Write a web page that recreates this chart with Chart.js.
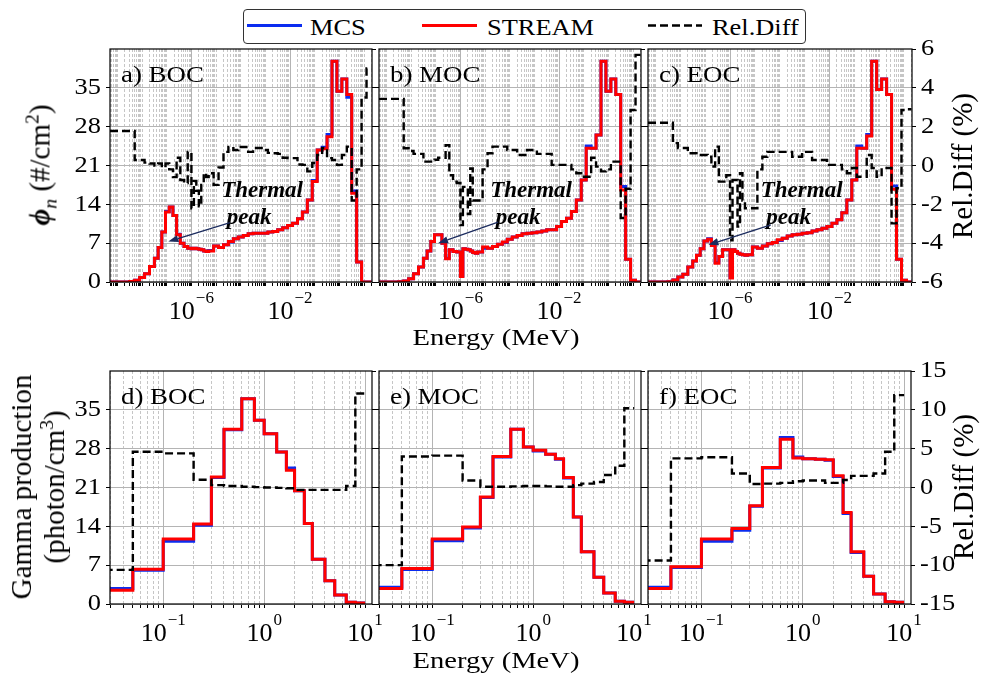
<!DOCTYPE html>
<html>
<head>
<meta charset="utf-8">
<title>Neutron flux and gamma production spectra</title>
<script src="https://cdn.jsdelivr.net/npm/chart.js@4.4.1/dist/chart.umd.min.js"></script>
<style>
  html, body { margin: 0; padding: 0; background: #fff; }
  #fig { position: relative; width: 989px; height: 673px; overflow: hidden;
         font-family: 'Liberation Serif', 'Times New Roman', serif; color: #000; }
  #fig canvas { position: absolute; }
  .txt { position: absolute; white-space: nowrap; font-size: 24px; line-height: 24px; }
  .vt { position: absolute; white-space: nowrap; font-size: 29px; line-height: 33px;
        text-align: center; transform: translate(-50%, -50%) rotate(-90deg); }
  .vt sup, .vt sub { font-size: 0.68em; line-height: 0; }
  #legend-box { position: absolute; left: 243px; top: 9px; width: 563px; height: 35px;
                box-sizing: border-box; border: 1.3px solid #333; border-radius: 4px; background: #fff; }
  .leg-line { position: absolute; height: 3px; }
</style>
</head>
<body>
<div id="fig">
  <div id="legend-box"></div>
  <div class="leg-line" style="left:247px;top:24px;width:55px;background:#0a2cf0"></div>
  <div class="txt" style="left:310px;top:15px;transform-origin:left center;transform:scaleX(1.1)">MCS</div>
  <div class="leg-line" style="left:422px;top:24px;width:55px;background:#ff0000"></div>
  <div class="txt" style="left:487px;top:15px;transform-origin:left center;transform:scaleX(1.1)">STREAM</div>
  <svg style="position:absolute;left:648px;top:23px" width="54" height="5">
    <line x1="0" y1="2.5" x2="54" y2="2.5" stroke="#000" stroke-width="2.4" stroke-dasharray="8 4"/>
  </svg>
  <div class="txt" style="left:712px;top:15px;transform-origin:left center;transform:scaleX(1.1)">Rel.Diff</div>

  <div class="vt" style="left:40px;top:165px"><b><i>ϕ</i></b><sub><i>n</i></sub> (#/cm<sup>2</sup>)</div>
  <div class="vt" style="left:38px;top:487px">Gamma production<br>(photon/cm<sup>3</sup>)</div>
  <div class="vt" style="left:962px;top:166px">Rel.Diff (%)</div>
  <div class="vt" style="left:963px;top:487px">Rel.Diff (%)</div>

  <div class="txt" style="left:496px;top:325px;transform:translateX(-50%) scaleX(1.19)">Energy (MeV)</div>
  <div class="txt" style="left:496px;top:648px;transform:translateX(-50%) scaleX(1.19)">Energy (MeV)</div>
</div>
<script>
// ---------------------------------------------------------------
// Données
// ---------------------------------------------------------------

// Bornes des groupes neutrons (MeV)
const E_N = [5.0e-10, 3.16e-9, 5.01e-9, 7.94e-9, 1.26e-8, 2.0e-8, 3.16e-8, 4.47e-8, 6.31e-8, 8.91e-8,
  1.26e-7, 1.78e-7, 2.51e-7, 3.55e-7, 5.01e-7, 7.08e-7, 1.0e-6, 1.26e-6, 1.58e-6, 2.0e-6,
  2.51e-6, 3.16e-6, 3.98e-6, 5.01e-6, 7.94e-6, 1.26e-5, 2.0e-5, 3.16e-5, 5.01e-5, 7.94e-5,
  1.26e-4, 2.0e-4, 3.16e-4, 5.01e-4, 7.94e-4, 1.26e-3, 2.0e-3, 3.16e-3, 5.01e-3, 7.94e-3,
  1.26e-2, 2.0e-2, 3.16e-2, 5.01e-2, 7.94e-2, 0.126, 0.2, 0.316, 0.501, 0.794,
  1.26, 2.0, 3.16, 5.01, 7.94, 12.6, 20];

// a) BOC
const STREAM_A = [0, 0.1, 0.3, 0.8, 1.5, 2.8, 4.3, 6.2, 9.0, 12.6,
  13.5, 12.0, 8.5, 7.0, 6.4, 6.1, 6.0, 6.1, 6.0, 5.9,
  5.8, 5.6, 5.5, 5.6, 6.5, 6.2, 6.7, 7.3, 7.8, 8.1,
  8.4, 8.7, 8.8, 8.8, 8.8, 9.0, 9.1, 9.4, 9.8, 10.2,
  10.6, 11.4, 12.6, 14.8, 18.1, 23.8, 24.0, 26.2, 39.8, 34.4,
  36.6, 33.8, 16.0, 3.6, 0, 0];
const MCS_A = [0, 0.1, 0.3, 0.8, 1.5, 2.8, 4.3, 6.2, 9.0, 12.7,
  13.5, 12.0, 8.6, 7.0, 6.4, 6.1, 6.0, 6.1, 6.0, 5.9,
  5.8, 5.6, 5.5, 5.7, 6.5, 6.2, 6.7, 7.2, 7.8, 8.1,
  8.4, 8.7, 8.8, 8.8, 8.8, 9.0, 9.1, 9.4, 9.8, 10.2,
  10.6, 11.4, 12.6, 14.8, 18.3, 23.8, 24.3, 26.6, 39.8, 34.4,
  36.6, 33.3, 16.4, 3.6, 0, 0];
const DIFF_A = [1.78, 1.78, 0.28, 0.28, 0.15, 0.1, 0.0, 0.1, -0.1, 0.1,
  -0.2, -0.6, 0.4, -0.75, -0.9, 0.7, -2.2, -0.8, -1.3, -2.1,
  -1.0, -0.4, -0.6, -0.4, -1.0, -0.1, 0.7, 0.95, 0.8, 0.95,
  0.95, 0.7, 0.9, 0.9, 0.8, 0.65, 0.63, 0.6, 0.4, 0.38,
  0.38, 0.05, 0.03, -0.3, 0.13, 0.54, 0.9, 0.38, 0.28, 0.03,
  0.54, 0.97, -1.8, -0.2, 3.5, 5.0];

// b) MOC
const STREAM_B = [0, 0.05, 0.2, 0.6, 1.5, 2.7, 4.3, 5.6, 7.3, 8.5,
  8.5, 7.0, 4.2, 5.8, 5.5, 5.4, 1.0, 6.0, 5.9, 5.8,
  5.6, 5.3, 5.2, 5.4, 6.3, 6.1, 6.4, 6.8, 7.2, 7.7,
  8.1, 8.4, 8.7, 8.8, 8.9, 9.0, 9.2, 9.4, 9.4, 10.0,
  10.9, 11.5, 12.7, 14.8, 18.4, 24.1, 24.1, 26.5, 39.8, 34.4,
  36.6, 33.8, 16.6, 4.1, 0.3, 0];
const MCS_B = [0, 0.05, 0.2, 0.6, 1.5, 2.7, 4.3, 5.6, 7.3, 8.5,
  8.5, 7.0, 4.3, 5.8, 5.5, 5.4, 1.1, 6.0, 5.9, 5.8,
  5.6, 5.3, 5.2, 5.4, 6.1, 6.1, 6.4, 6.8, 7.1, 7.7,
  8.1, 8.4, 8.7, 8.8, 8.9, 9.0, 9.2, 9.4, 9.4, 10.0,
  10.9, 11.5, 12.7, 14.8, 18.4, 24.5, 24.1, 26.5, 39.8, 34.4,
  36.6, 33.8, 17.2, 4.1, 0.3, 0];
const DIFF_B = [3.43, 3.43, 0.89, 0.75, 0.6, 0.6, 0.2, 0.2, 0.2, 0.3,
  0.4, 0.4, 1.05, -0.5, -0.83, -0.9, -3.07, -1.1, -1.1, -2.5,
  -0.15, -1.8, -1.8, -1.8, -0.2, 0.63, 0.97, 0.97, 0.97, 0.8,
  0.8, 0.54, 0.54, 0.8, 0.8, 0.6, 0.6, 0.6, 0.03, 0.03,
  0.03, 0.03, -0.2, -0.4, -0.58, -0.58, 0.4, -0.06, -0.3, -0.2,
  0.2, 0.2, -2.7, -1.2, 2.86, 5.7];

// c) EOC
const STREAM_C = [0, 0.05, 0.36, 0.9, 1.4, 2.7, 3.8, 4.8, 6.0, 7.4,
  7.7, 6.6, 3.4, 4.6, 5.8, 5.8, 0.7, 5.8, 5.5, 5.2,
  5.0, 4.9, 4.8, 4.9, 6.3, 6.1, 6.5, 6.9, 7.1, 7.6,
  7.9, 8.3, 8.5, 8.6, 8.8, 8.9, 9.2, 9.4, 9.7, 10.0,
  10.6, 11.2, 12.5, 14.8, 18.4, 24.1, 24.1, 26.3, 39.8, 34.7,
  36.6, 33.8, 16.7, 4.1, 0.3, 0];
const MCS_C = [0, 0.05, 0.36, 0.9, 1.4, 2.7, 3.8, 4.8, 6.0, 7.4,
  7.8, 6.6, 3.5, 4.6, 5.8, 5.8, 0.8, 5.8, 5.5, 5.2,
  5.0, 4.9, 4.8, 4.9, 6.3, 6.1, 6.5, 6.9, 7.1, 7.5,
  7.9, 8.3, 8.5, 8.6, 8.8, 8.9, 9.2, 9.4, 9.7, 10.0,
  10.6, 11.2, 12.5, 14.8, 18.4, 24.5, 24.1, 26.6, 39.8, 34.7,
  36.6, 33.8, 17.3, 4.1, 0.3, 0];
const DIFF_C = [2.2, 2.2, 1.15, 0.9, 0.9, 0.63, 0.63, 0.54, 0.54, 0.54,
  0.45, -0.05, 0.97, -0.83, -0.83, -0.5, -3.85, -0.75, -0.75, -3.15,
  -0.4, -1.8, -2.2, -2.2, -2.2, -0.2, 0.45, 0.7, 0.7, 0.7,
  0.7, 0.7, 0.45, 0.45, 0.7, 0.7, 0.28, 0.28, 0.28, 0.03,
  0.03, 0.03, -0.2, -0.4, -0.13, -0.58, -0.58, 0.54, -0.13, -0.58,
  -0.13, -0.13, -2.98, -1.17, 2.86, 2.9];

// Bornes des groupes gamma (MeV)
const E_G = [0.02, 0.05, 0.1, 0.2, 0.3, 0.4, 0.6, 0.8, 1.0, 1.33,
  1.66, 2.0, 2.5, 3.0, 4.0, 5.0, 6.5, 8.0, 10.0];

const STREAM_D = [2.5, 6.25, 11.7, 14.4, 22.9, 31.5, 37.0, 33.1, 30.7, 27.4, 24.1, 20.4, 14.5, 8.05, 4.2, 1.6, 0.3, 0.2];
const MCS_D    = [2.8, 6.1, 11.3, 14.2, 22.8, 31.4, 37.0, 33.1, 30.7, 27.4, 24.5, 20.4, 14.5, 8.05, 4.2, 1.6, 0.3, 0.2];
const DIFF_D   = [-10.6, 4.6, 4.4, 1.0, 0.3, 0.2, 0.1, 0.05, 0.0, -0.05, -0.1, -0.3, -0.3, -0.3, -0.3, -0.3, 0.2, 12.1];

const STREAM_E = [2.8, 6.4, 11.7, 13.9, 19.3, 26.6, 31.5, 28.3, 27.7, 27.0, 26.2, 22.8, 15.7, 9.4, 4.8, 2.0, 0.5, 0.3];
const MCS_E    = [3.0, 6.2, 11.4, 13.7, 19.2, 26.5, 31.5, 28.3, 27.6, 27.0, 26.1, 22.7, 15.7, 9.4, 4.8, 2.0, 0.5, 0.3];
const DIFF_E   = [-10.0, 4.0, 4.1, 0.9, 0.1, 0.1, 0.15, 0.2, 0.2, 0.15, 0.1, 0.1, 0.3, 0.5, 0.7, 1.6, 2.8, 10.2];

const STREAM_F = [2.8, 6.7, 11.7, 13.6, 17.7, 24.6, 29.7, 26.3, 26.2, 26.1, 26.0, 23.1, 16.5, 9.4, 5.0, 1.8, 0.4, 0.3];
const MCS_F    = [3.0, 6.6, 11.3, 13.3, 17.6, 24.5, 30.0, 26.5, 26.2, 26.1, 25.9, 23.0, 16.3, 9.3, 5.0, 1.8, 0.4, 0.3];
const DIFF_F   = [-9.4, 3.75, 3.9, 1.8, 0.45, 0.5, 0.6, 0.8, 0.9, 0.9, 0.6, 0.6, 0.97, 1.5, 1.5, 1.8, 4.6, 11.9];

// Graduations
const Y_TICKS = [0, 7, 14, 21, 28, 35];
const Y_LABELS = ['0', '7', '14', '21', '28', '35'];
const RD_TICKS_TOP = [-6, -4, -2, 0, 2, 4, 6];
const RD_LABELS_TOP = ['-6', '-4', '-2', '0', '2', '4', '6'];
const RD_TICKS_BOT = [-15, -10, -5, 0, 5, 10, 15];
const RD_LABELS_BOT = ['-15', '-10', '-5', '0', '5', '10', '15'];
const X_MAJOR_TOP = [1e-6, 1e-2];
const X_EXP_TOP = ['\u22126', '\u22122'];
const X_MAJOR_BOT = [0.1, 1, 10];
const X_EXP_BOT = ['\u22121', '0', '1'];
const PANEL_TAGS = ['a) BOC', 'b) MOC', 'c) EOC', 'd) BOC', 'e) MOC', 'f) EOC'];

// ---------------------------------------------------------------
// Style
// ---------------------------------------------------------------
const BLUE = '#0a2cf0';
const RED = '#ff0000';
const GRID_MAJOR = '#b4b4b4';
const GRID_MINOR = '#c6c6c6';
const SERIF = "'Liberation Serif', 'Times New Roman', serif";
const PANEL_H = 233;
const PAD = { l: 105, r: 80, t: 12, b: 70 };

// Annotations "Thermal peak" (coordonnées données)
const NOTES = {
  a: { t1: [7.3e-4, 15.3], t2: [2.17e-4, 10.5], from: [3.67e-5, 10.7], to: [1.16e-7, 7.3] },
  b: { t1: [7.3e-4, 15.3], t2: [2.17e-4, 10.5], from: [3.35e-5, 10.8], to: [1.24e-7, 7.0] },
  c: { t1: [7.6e-4, 15.3], t2: [2.3e-4, 10.5], from: [4.4e-5, 10.3], to: [1.35e-7, 6.7] },
};

const ROW_TOP = { xMin: 5.0e-10, xMax: 21, xMajor: X_MAJOR_TOP, xExp: X_EXP_TOP,
                  rMin: -6, rMax: 6, rTicks: RD_TICKS_TOP, rLabels: RD_LABELS_TOP, edges: E_N };
const ROW_BOT = { xMin: 0.0297, xMax: 11.7, xMajor: X_MAJOR_BOT, xExp: X_EXP_BOT,
                  rMin: -15, rMax: 15, rTicks: RD_TICKS_BOT, rLabels: RD_LABELS_BOT, edges: E_G };

const PANELS = [
  { row: ROW_TOP, left: 110, top: 49, w: 262, tag: PANEL_TAGS[0], mcs: MCS_A, stream: STREAM_A, diff: DIFF_A, yl: true,  yr: false, note: NOTES.a },
  { row: ROW_TOP, left: 379, top: 49, w: 262, tag: PANEL_TAGS[1], mcs: MCS_B, stream: STREAM_B, diff: DIFF_B, yl: false, yr: false, note: NOTES.b },
  { row: ROW_TOP, left: 648, top: 49, w: 264, tag: PANEL_TAGS[2], mcs: MCS_C, stream: STREAM_C, diff: DIFF_C, yl: false, yr: true,  note: NOTES.c },
  { row: ROW_BOT, left: 110, top: 371, w: 262, tag: PANEL_TAGS[3], mcs: MCS_D, stream: STREAM_D, diff: DIFF_D, yl: true,  yr: false },
  { row: ROW_BOT, left: 379, top: 371, w: 262, tag: PANEL_TAGS[4], mcs: MCS_E, stream: STREAM_E, diff: DIFF_E, yl: false, yr: false },
  { row: ROW_BOT, left: 648, top: 371, w: 263, tag: PANEL_TAGS[5], mcs: MCS_F, stream: STREAM_F, diff: DIFF_F, yl: false, yr: true },
];

// ---------------------------------------------------------------
// Outils
// ---------------------------------------------------------------
function stepData(edges, vals) {
  return edges.map((e, i) => ({ x: e, y: vals[Math.min(i, vals.length - 1)] }));
}

// graduations log : 1..9 x 10^k
function logGrid(min, max, majors) {
  const out = [];
  for (let k = Math.floor(Math.log10(min)); k <= Math.ceil(Math.log10(max)); k++) {
    for (let m = 1; m <= 9; m++) {
      const v = m * Math.pow(10, k);
      if (v >= min && v <= max) {
        out.push({ value: v, major: majors.some(M => Math.abs(v / M - 1) < 1e-6) });
      }
    }
  }
  return out;
}

function drawText(ctx, str, x, y, font, sx, align, base) {
  ctx.save();
  ctx.translate(x, y);
  ctx.scale(sx, 1);
  ctx.font = font;
  ctx.textAlign = align;
  ctx.textBaseline = base;
  ctx.fillStyle = '#000';
  ctx.fillText(str, 0, 0);
  ctx.restore();
}

function drawPow(ctx, exp, cx, base) {
  ctx.save();
  ctx.fillStyle = '#000';
  ctx.textAlign = 'left';
  ctx.textBaseline = 'alphabetic';
  ctx.font = '26px ' + SERIF;
  const w1 = ctx.measureText('10').width;
  ctx.font = '17px ' + SERIF;
  const w2 = ctx.measureText(exp).width;
  const x0 = cx - (w1 + 1 + w2) / 2;
  ctx.font = '26px ' + SERIF;
  ctx.fillText('10', x0, base);
  ctx.font = '17px ' + SERIF;
  ctx.fillText(exp, x0 + w1 + 1, base - 16);
  ctx.restore();
}

function drawArrow(ctx, x1, y1, x2, y2) {
  const a = Math.atan2(y2 - y1, x2 - x1);
  const hl = 10, hw = 3.6;
  const bx = x2 - hl * Math.cos(a), by = y2 - hl * Math.sin(a);
  ctx.save();
  ctx.strokeStyle = ctx.fillStyle = '#1b2b5e';
  ctx.lineWidth = 1.3;
  ctx.beginPath(); ctx.moveTo(x1, y1); ctx.lineTo(bx, by); ctx.stroke();
  ctx.beginPath();
  ctx.moveTo(x2, y2);
  ctx.lineTo(bx + hw * Math.sin(a), by - hw * Math.cos(a));
  ctx.lineTo(bx - hw * Math.sin(a), by + hw * Math.cos(a));
  ctx.closePath(); ctx.fill();
  ctx.restore();
}

// textes, cadre et annotation d'un panneau
function decor(p) {
  return {
    id: 'decor',
    afterDatasetsDraw(chart) {
      const { ctx, chartArea: a, scales } = chart;
      if (p.note) {
        const n = p.note, x = scales.x, y = scales.y;
        const bi = 'italic bold 23px ' + SERIF;
        drawText(ctx, 'Thermal', x.getPixelForValue(n.t1[0]), y.getPixelForValue(n.t1[1]), bi, 1, 'center', 'alphabetic');
        drawText(ctx, 'peak', x.getPixelForValue(n.t2[0]), y.getPixelForValue(n.t2[1]), bi, 1, 'center', 'alphabetic');
        drawArrow(ctx, x.getPixelForValue(n.from[0]), y.getPixelForValue(n.from[1]),
                       x.getPixelForValue(n.to[0]), y.getPixelForValue(n.to[1]));
      }
      ctx.save();
      ctx.strokeStyle = '#000';
      ctx.lineWidth = 1.2;
      ctx.strokeRect(a.left, a.top, a.right - a.left, a.bottom - a.top);
      ctx.restore();
    },
    afterDraw(chart) {
      const { ctx, chartArea: a, scales } = chart;
      const f = '24px ' + SERIF;
      drawText(ctx, p.tag, a.left + 11, a.top + 33, f, 1.12, 'left', 'alphabetic');
      if (p.yl) {
        scales.y.ticks.forEach((t, i) =>
          drawText(ctx, Y_LABELS[i], a.left - 9, scales.y.getPixelForValue(t.value), f, 1.1, 'right', 'middle'));
      }
      if (p.yr) {
        scales.y2.ticks.forEach((t, i) =>
          drawText(ctx, p.row.rLabels[i], a.right + 9, scales.y2.getPixelForValue(t.value), f, 1.1, 'left', 'middle'));
      }
      p.row.xMajor.forEach((v, i) => drawPow(ctx, p.row.xExp[i], scales.x.getPixelForValue(v), a.bottom + 37));
    },
  };
}

// ---------------------------------------------------------------
// Construction des panneaux
// ---------------------------------------------------------------
const fig = document.getElementById('fig');

function makePanel(p) {
  const r = p.row;
  const cv = document.createElement('canvas');
  cv.width = p.w + PAD.l + PAD.r;
  cv.height = PANEL_H + PAD.t + PAD.b;
  cv.style.left = (p.left - PAD.l) + 'px';
  cv.style.top = (p.top - PAD.t) + 'px';
  fig.insertBefore(cv, fig.firstChild);

  const xTicks = logGrid(r.xMin, r.xMax, r.xMajor);
  const common = { stepped: true, pointRadius: 0, fill: false, borderJoinStyle: 'miter' };

  new Chart(cv, {
    type: 'line',
    data: {
      datasets: [
        { ...common, label: 'Rel.Diff', data: stepData(r.edges, p.diff), yAxisID: 'y2',
          borderColor: '#000', borderWidth: 2.4, borderDash: [8, 4], order: 0 },
        { ...common, label: 'STREAM', data: stepData(r.edges, p.stream), yAxisID: 'y',
          borderColor: RED, borderWidth: 3, order: 1 },
        { ...common, label: 'MCS', data: stepData(r.edges, p.mcs), yAxisID: 'y',
          borderColor: BLUE, borderWidth: 3, order: 2 },
      ],
    },
    options: {
      responsive: false,
      animation: false,
      devicePixelRatio: 1,
      events: [],
      layout: { autoPadding: false, padding: { top: PAD.t, left: 0, right: 0, bottom: 0 } },
      plugins: { legend: { display: false }, tooltip: { enabled: false } },
      scales: {
        x: {
          type: 'logarithmic', position: 'bottom', min: r.xMin, max: r.xMax,
          afterBuildTicks: s => { s.ticks = xTicks.map(t => ({ ...t })); },
          afterFit: s => { s.height = PAD.b; },
          ticks: { display: false, autoSkip: false },
          grid: {
            color: c => (c.tick && c.tick.major ? GRID_MAJOR : GRID_MINOR),
            lineWidth: 1, tickLength: 4, tickColor: '#000', tickWidth: 1,
          },
          border: { display: false, dash: c => (c.tick && !c.tick.major ? [3, 2] : []) },
        },
        y: {
          type: 'linear', position: 'left', min: 0, max: 42,
          afterBuildTicks: s => { s.ticks = Y_TICKS.map(v => ({ value: v })); },
          afterFit: s => { s.width = PAD.l; },
          ticks: { display: false },
          grid: { color: GRID_MAJOR, lineWidth: 1, tickLength: 4, tickColor: '#000', tickWidth: 1 },
          border: { display: false },
        },
        y2: {
          type: 'linear', position: 'right', min: r.rMin, max: r.rMax,
          afterBuildTicks: s => { s.ticks = r.rTicks.map(v => ({ value: v })); },
          afterFit: s => { s.width = PAD.r; },
          ticks: { display: false },
          grid: { drawOnChartArea: false, tickLength: 4, tickColor: '#000', tickWidth: 1 },
          border: { display: false },
        },
      },
    },
    plugins: [decor(p)],
  });
}

PANELS.slice().reverse().forEach(makePanel);
</script>
</body>
</html>
